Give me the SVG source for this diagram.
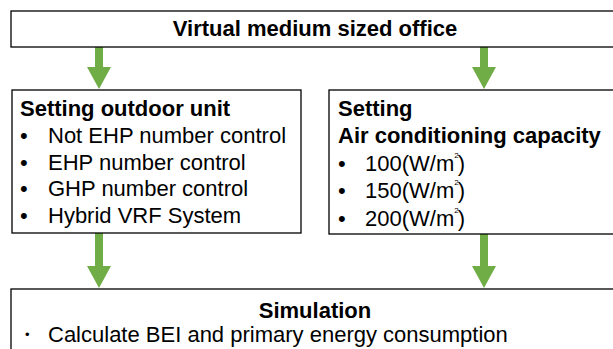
<svg xmlns="http://www.w3.org/2000/svg" width="613" height="349" viewBox="0 0 613 349">
<style>
.box{fill:#fff;stroke:#000;stroke-width:1.3}
.t{font-family:"Liberation Sans",Arial,sans-serif;font-size:22px;fill:#000}
.b{font-weight:bold}
.sup{font-size:8px}
.arrow{fill:#70ad47}
</style>
<rect width="613" height="349" fill="#fff"/>
<g id="connectors">
<path class="arrow" d="M95,47 h8 v20 h8 l-12,22 l-12,-22 h8 z"/>
<path class="arrow" d="M480,47 h8 v20 h8 l-12,22 l-12,-22 h8 z"/>
<path class="arrow" d="M95,233 h8 v33 h8 l-12,22 l-12,-22 h8 z"/>
<path class="arrow" d="M480,234 h8 v32 h8 l-12,22 l-12,-22 h8 z"/>
</g>
<g id="office">
<rect class="box" x="11" y="11" width="610" height="36"/>
<text class="t b" x="315" y="36" text-anchor="middle">Virtual medium sized office</text>
</g>
<g id="outdoor">
<rect class="box" x="12" y="90" width="289" height="143"/>
<text class="t b" x="20" y="116">Setting outdoor unit</text>
<text class="t" x="20" y="142.5">•</text><text class="t" x="48" y="142.5">Not EHP number control</text>
<text class="t" x="20" y="169.5">•</text><text class="t" x="48" y="169.5">EHP number control</text>
<text class="t" x="20" y="196">•</text><text class="t" x="48" y="196">GHP number control</text>
<text class="t" x="20" y="222.5">•</text><text class="t" x="48" y="222.5">Hybrid VRF System</text>
</g>
<g id="capacity">
<rect class="box" x="329" y="90" width="300" height="144"/>
<text class="t b" x="338" y="116">Setting</text>
<text class="t b" x="338" y="143">Air conditioning capacity</text>
<text class="t" x="338" y="170.5">•</text><text class="t" x="365" y="170.5">100(W/m<tspan class="sup" dy="-13">2</tspan><tspan dx="-1" dy="13">)</tspan></text>
<text class="t" x="338" y="198">•</text><text class="t" x="365" y="198">150(W/m<tspan class="sup" dy="-13">2</tspan><tspan dx="-1" dy="13">)</tspan></text>
<text class="t" x="338" y="225.5">•</text><text class="t" x="365" y="225.5">200(W/m<tspan class="sup" dy="-13">2</tspan><tspan dx="-1" dy="13">)</tspan></text>
</g>
<g id="simulation">
<rect class="box" x="11" y="289" width="610" height="80"/>
<text class="t b" x="315" y="318" text-anchor="middle">Simulation</text>
<text class="t" x="16" y="342">・</text><text class="t" x="48" y="342">Calculate BEI and primary energy consumption</text>
</g>
</svg>
